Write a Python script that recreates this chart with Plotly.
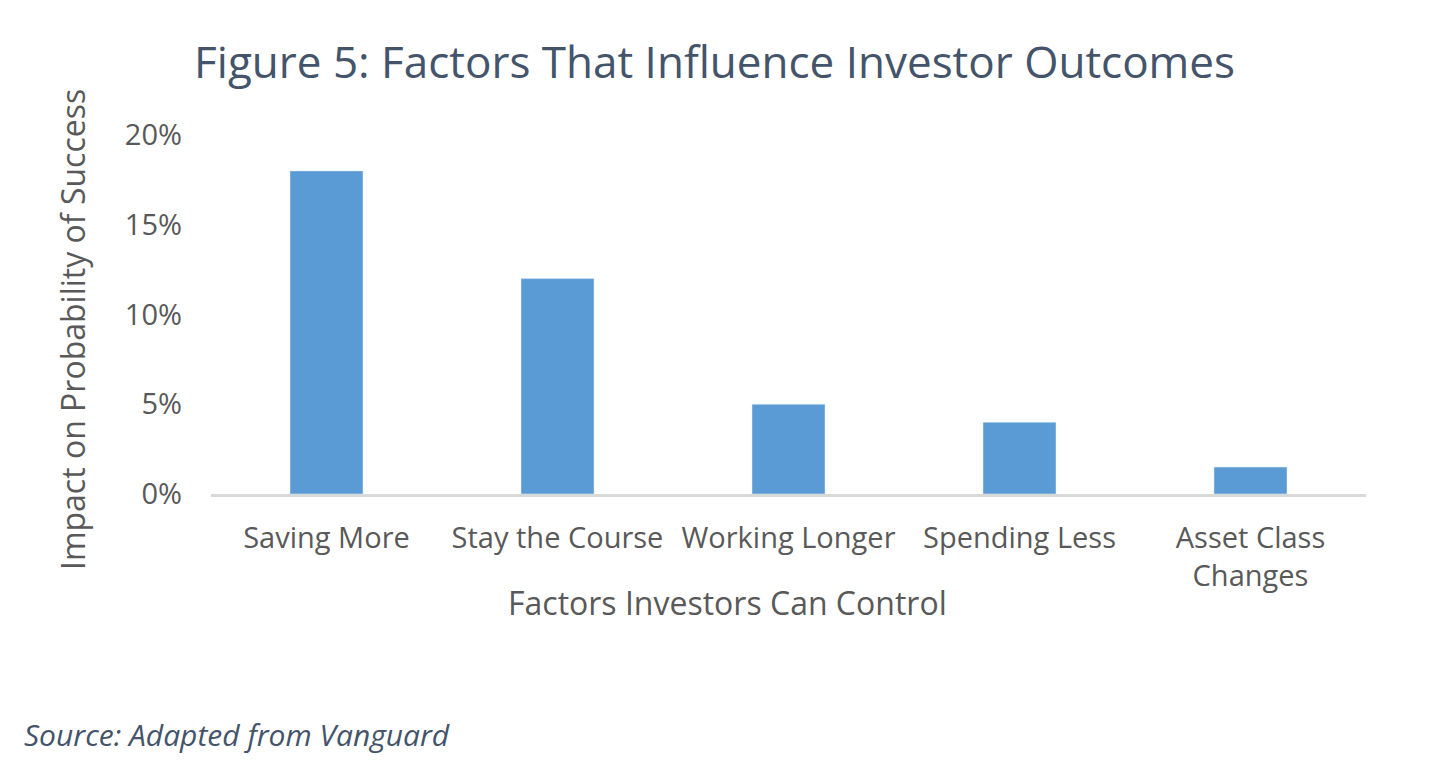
import plotly.graph_objects as go

# dados
categories = ["Saving More", "Stay the Course", "Working Longer", "Spending Less", "Asset Class<br>Changes"]
impact = [0.18, 0.12, 0.05, 0.04, 0.015]
y_ticks = [0, 0.05, 0.10, 0.15, 0.20]
y_tick_labels = ["0%", "5%", "10%", "15%", "20%"]

TITLE_COLOR = "#44546A"
TICK_COLOR = "#595959"
FONT = "Open Sans, sans-serif"

fig = go.Figure(
    go.Bar(x=categories, y=impact, marker_color="#5B9BD5", width=0.316)
)

# a página tem 8px de margem no body, por isso as margens estão descontadas
fig.update_layout(
    width=1442,
    height=775,
    paper_bgcolor="white",
    plot_bgcolor="white",
    margin=dict(l=203, r=84, t=127, b=289),
    showlegend=False,
    font=dict(family=FONT, color=TICK_COLOR),
    title=dict(
        text="Figure 5: Factors That Influence Investor Outcomes",
        x=0.490, xanchor="center", y=0.930, yanchor="middle",
        font=dict(size=44, color=TITLE_COLOR, family=FONT),
    ),
)

fig.update_xaxes(
    showgrid=False, showline=True, linecolor="#D9D9D9", linewidth=3,
    ticks="", tickfont=dict(size=29, color=TICK_COLOR), ticklabelstandoff=16,
)
fig.update_yaxes(
    range=[0, 0.2], tickvals=y_ticks, ticktext=y_tick_labels,
    showgrid=False, zeroline=False, showline=False,
    tickfont=dict(size=29, color=TICK_COLOR), ticks="", ticklabelstandoff=28,
)

# títulos dos eixos como anotações (no original não estão centrados na área do gráfico)
fig.add_annotation(
    text="Factors Investors Can Control", xref="paper", yref="paper",
    x=0.4468, y=-0.3036, xanchor="center", yanchor="middle", showarrow=False,
    font=dict(size=32, color=TICK_COLOR, family=FONT),
)
fig.add_annotation(
    text="Impact on Probability of Success", xref="paper", yref="paper",
    x=-0.1203, y=0.4568, xanchor="center", yanchor="middle", showarrow=False,
    textangle=-90, font=dict(size=32, color=TICK_COLOR, family=FONT),
)

fig.add_annotation(
    text="<i>Source: Adapted from Vanguard</i>", xref="paper", yref="paper",
    x=-0.1636, y=-0.671, xanchor="left", yanchor="middle", showarrow=False,
    font=dict(size=30, color=TITLE_COLOR, family=FONT),
)

fig.write_html("out.html")
